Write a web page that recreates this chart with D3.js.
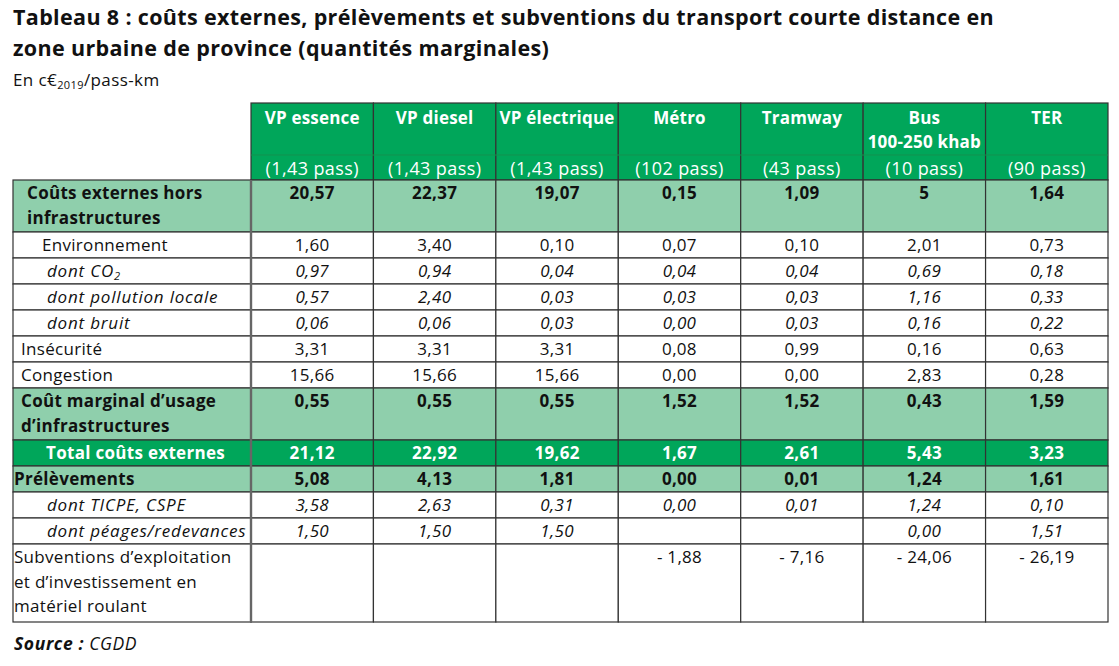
<!DOCTYPE html>
<html>
<head>
<meta charset="utf-8">
<script src="https://cdn.jsdelivr.net/npm/d3@7"></script>
<style>
  body { margin: 0; background: #fff; }
  text { font-family: "Open Sans", sans-serif; }
</style>
</head>
<body>
<div id="chart"></div>
<script>

// column headers
const modes = ["VP essence", "VP diesel", "VP électrique", "Métro", "Tramway", "Bus|100-250 khab", "TER"];
const passengers = ["(1,43 pass)", "(1,43 pass)", "(1,43 pass)", "(102 pass)", "(43 pass)", "(10 pass)", "(90 pass)"];

// values (c€2019/pass-km), as printed in the table
const coutsHorsInfra = ["20,57", "22,37", "19,07", "0,15", "1,09", "5", "1,64"];
const environnement  = ["1,60", "3,40", "0,10", "0,07", "0,10", "2,01", "0,73"];
const dontCO2        = ["0,97", "0,94", "0,04", "0,04", "0,04", "0,69", "0,18"];
const dontPollution  = ["0,57", "2,40", "0,03", "0,03", "0,03", "1,16", "0,33"];
const dontBruit      = ["0,06", "0,06", "0,03", "0,00", "0,03", "0,16", "0,22"];
const insecurite     = ["3,31", "3,31", "3,31", "0,08", "0,99", "0,16", "0,63"];
const congestion     = ["15,66", "15,66", "15,66", "0,00", "0,00", "2,83", "0,28"];
const coutInfra      = ["0,55", "0,55", "0,55", "1,52", "1,52", "0,43", "1,59"];
const totalExternes  = ["21,12", "22,92", "19,62", "1,67", "2,61", "5,43", "3,23"];
const prelevements   = ["5,08", "4,13", "1,81", "0,00", "0,01", "1,24", "1,61"];
const dontTICPE      = ["3,58", "2,63", "0,31", "0,00", "0,01", "1,24", "0,10"];
const dontPeages     = ["1,50", "1,50", "1,50", "", "", "0,00", "1,51"];
const subventions    = ["", "", "", "- 1,88", "- 7,16", "- 24,06", "- 26,19"];

const rows = [
    { label: ["Coûts externes hors", "infrastructures"], values: coutsHorsInfra, kind: "light", indent: 14 },
    { label: ["Environnement"], values: environnement, kind: "plain", indent: 29 },
    { label: ["dont CO|2"], values: dontCO2, kind: "italic", indent: 34 },
    { label: ["dont pollution locale"], values: dontPollution, kind: "italic", indent: 34 },
    { label: ["dont bruit"], values: dontBruit, kind: "italic", indent: 34 },
    { label: ["Insécurité"], values: insecurite, kind: "plain", indent: 8 },
    { label: ["Congestion"], values: congestion, kind: "plain", indent: 8 },
    { label: ["Coût marginal d’usage", "d’infrastructures"], values: coutInfra, kind: "light", indent: 8 },
    { label: ["Total coûts externes"], values: totalExternes, kind: "total", indent: 33 },
    { label: ["Prélèvements"], values: prelevements, kind: "light", indent: 1 },
    { label: ["dont TICPE, CSPE"], values: dontTICPE, kind: "italic", indent: 34 },
    { label: ["dont péages/redevances"], values: dontPeages, kind: "italic", indent: 34 },
    { label: ["Subventions d’exploitation", "et d’investissement en", "matériel roulant"], values: subventions, kind: "plain", indent: 1 }
];

const width = 1119;
const height = 666;

const darkGreen = "#00a65a";
const lightGreen = "#8fcfac";
const lineColor = "#333";

const svg = d3.select("#chart")
    .append("svg")
    .attr("width", width)
    .attr("height", height);

// title
const title = svg.append("g")
    .attr("font-size", 21.5).attr("font-weight", 700).attr("fill", "#111")
    .attr("letter-spacing", 0.35);
title.append("text")
    .attr("x", 13).attr("y", 25)
    .text("Tableau 8 : coûts externes, prélèvements et subventions du transport courte distance en");
title.append("text")
    .attr("x", 13).attr("y", 56)
    .text("zone urbaine de province (quantités marginales)");

const unit = svg.append("text")
    .attr("x", 13).attr("y", 86)
    .attr("font-size", 17).attr("letter-spacing", 0.4).attr("fill", "#111");
unit.append("tspan").text("En c€");
unit.append("tspan").attr("font-size", 11).attr("dy", 3).text("2019");
unit.append("tspan").attr("dy", -3).text("/pass-km");

// table geometry
const tableLeft = 13;
const labelRight = 251;
const tableRight = 1108;
const headerTop = 103;
const headerSplit = 155;
const bodyTop = 180;
const lineH = 26;

const xScale = d3.scaleBand()
    .domain(modes)
    .range([labelRight, tableRight]);

// row positions from line counts
let acc = 0;
rows.forEach(function(r) {
    r.start = acc;
    acc += r.label.length;
});
const yScale = d3.scaleLinear()
    .domain([0, acc])
    .range([bodyTop, bodyTop + acc * lineH]);

// header cells
const head = svg.append("g");
head.selectAll("rect")
    .data(modes)
    .enter()
    .append("rect")
        .attr("x", function(d) { return xScale(d); })
        .attr("y", headerTop)
        .attr("width", xScale.bandwidth())
        .attr("height", bodyTop - headerTop)
        .attr("fill", darkGreen)
        .attr("stroke", lineColor)
        .attr("stroke-width", 1.2);

head.append("line")
    .attr("x1", labelRight).attr("x2", tableRight)
    .attr("y1", headerSplit).attr("y2", headerSplit)
    .attr("stroke", "#13914f").attr("stroke-width", 1);

head.selectAll("text.mode")
    .data(modes)
    .enter()
    .append("text")
        .attr("class", "mode")
        .attr("x", function(d) { return xScale(d) + xScale.bandwidth() / 2; })
        .attr("y", 124)
        .attr("text-anchor", "middle")
        .attr("font-size", 17).attr("font-weight", 700).attr("fill", "#fff")
        .attr("letter-spacing", 0.2)
        .each(function(d) {
            const parts = d.split("|");
            const t = d3.select(this);
            parts.forEach(function(p, i) {
                t.append("tspan")
                    .attr("x", xScale(d) + xScale.bandwidth() / 2)
                    .attr("dy", i === 0 ? 0 : 24)
                    .text(p);
            });
        });

head.selectAll("text.pass")
    .data(passengers)
    .enter()
    .append("text")
        .attr("class", "pass")
        .attr("x", function(d, i) { return xScale(modes[i]) + xScale.bandwidth() / 2; })
        .attr("y", 175)
        .attr("text-anchor", "middle")
        .attr("font-size", 18).attr("font-weight", 500).attr("fill", "#fff")
        .attr("letter-spacing", 0.4)
        .text(function(d) { return d; });

// body rows
const body = svg.append("g");

const rowG = body.selectAll("g.row")
    .data(rows)
    .enter()
    .append("g")
        .attr("class", "row");

function fillFor(kind) {
    if (kind === "light") {
        return lightGreen;
    } else if (kind === "total") {
        return darkGreen;
    } else {
        return "#fff";
    }
}

// label cell
rowG.append("rect")
    .attr("x", tableLeft)
    .attr("y", function(d) { return yScale(d.start); })
    .attr("width", labelRight - tableLeft)
    .attr("height", function(d) { return yScale(d.start + d.label.length) - yScale(d.start); })
    .attr("fill", function(d) { return fillFor(d.kind); })
    .attr("stroke", lineColor)
    .attr("stroke-width", 1.2);

// value cells
rowG.each(function(r) {
    const g = d3.select(this);
    const y0 = yScale(r.start);
    const h = yScale(r.start + r.label.length) - y0;
    const bold = (r.kind === "light" || r.kind === "total") ? 700 : 400;
    const italic = r.kind === "italic";

    g.selectAll("rect.cell")
        .data(r.values)
        .enter()
        .append("rect")
            .attr("class", "cell")
            .attr("x", function(d, i) { return xScale(modes[i]); })
            .attr("y", y0)
            .attr("width", xScale.bandwidth())
            .attr("height", h)
            .attr("fill", fillFor(r.kind))
            .attr("stroke", lineColor)
            .attr("stroke-width", 1.2);

    g.selectAll("text.val")
        .data(r.values)
        .enter()
        .append("text")
            .attr("class", "val")
            .attr("x", function(d, i) { return xScale(modes[i]) + xScale.bandwidth() / 2; })
            .attr("y", y0 + 19)
            .attr("text-anchor", "middle")
            .attr("font-size", 17)
            .attr("letter-spacing", 0.3)
            .attr("font-weight", bold)
            .attr("font-style", italic ? "italic" : "normal")
            .attr("fill", r.kind === "total" ? "#fff" : "#111")
            .text(function(d) { return d; });

    const lab = g.append("text")
        .attr("x", tableLeft + r.indent)
        .attr("y", y0 + 19)
        .attr("font-size", 17)
        .attr("letter-spacing", italic ? 0.8 : 0.3)
        .attr("font-weight", bold)
        .attr("font-style", italic ? "italic" : "normal")
        .attr("fill", r.kind === "total" ? "#fff" : "#111");

    r.label.forEach(function(line, i) {
        const parts = line.split("|");
        lab.append("tspan")
            .attr("x", tableLeft + r.indent)
            .attr("y", y0 + 19 + i * 24.5)
            .text(parts[0]);
        if (parts.length > 1) {
            lab.append("tspan")
                .attr("font-size", 11)
                .attr("dy", 3)
                .text(parts[1]);
        }
    });
});

// thicker separator after label column
body.append("line")
    .attr("x1", labelRight).attr("x2", labelRight)
    .attr("y1", bodyTop).attr("y2", yScale(acc))
    .attr("stroke", "#666").attr("stroke-width", 2.4);

// source
const source = svg.append("text")
    .attr("x", 14).attr("y", 650)
    .attr("font-size", 17.5).attr("font-style", "italic").attr("fill", "#111")
    .attr("letter-spacing", 0.6);
source.append("tspan").attr("font-weight", 700).text("Source : ");
source.append("tspan").text("CGDD");

</script>
</body>
</html>
